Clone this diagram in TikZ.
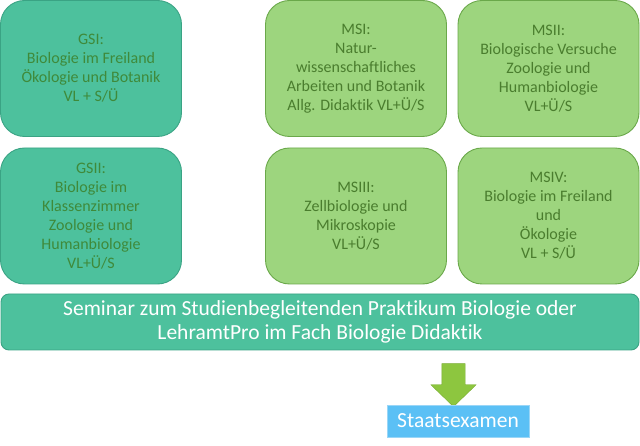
\documentclass[tikz,border=0pt]{standalone}
\usepackage{fontspec}
\setmainfont[Ligatures=NoCommon]{Carlito}
\usepackage{xcolor}
\usetikzlibrary{shapes.arrows}
\definecolor{tuerkis}{HTML}{4DC19D}
\definecolor{tuerkisrand}{HTML}{3AA384}
\definecolor{tuerkistext}{HTML}{3F8A3A}
\definecolor{hellgruen}{HTML}{9DD57E}
\definecolor{hellgruenrand}{HTML}{6AA84A}
\definecolor{gruentext}{HTML}{4A7D2E}
\definecolor{pfeilgruen}{HTML}{8DC63F}
\definecolor{pfeilrand}{HTML}{79AC33}
\definecolor{hellblau}{HTML}{5BC0F5}
\definecolor{hellblaurand}{HTML}{9AD6F7}
\tikzset{
	modul/.style={
			rounded corners=24pt, line width=0.9pt, minimum width=181pt, minimum height=136pt,
			align=center, inner sep=2pt,
			font=\fontsize{16}{19}\selectfont
		},
	gs/.style={modul, fill=tuerkis, draw=tuerkisrand, text=tuerkistext},
	ms/.style={modul, fill=hellgruen, draw=hellgruenrand, text=gruentext},
	seminar/.style={
			rounded corners=8pt, line width=0.9pt, fill=tuerkis, draw=tuerkisrand, text=white,
			minimum width=638pt, minimum height=56pt, align=center,
			font=\fontsize{21.5}{24}\selectfont
		},
	pfeil/.style={
			single arrow, shape border rotate=270, fill=pfeilgruen, draw=pfeilrand,
			minimum height=43pt, single arrow head extend=11pt,
			single arrow tip angle=92, inner sep=0pt
		},
	examen/.style={
			fill=hellblau, draw=hellblaurand, text=white, minimum width=142pt, minimum height=32pt,
			font=\fontsize{21.5}{24}\selectfont
		}
}

\begin{document}
\begin{tikzpicture}[x=1pt, y=-1pt]
	\useasboundingbox (0,0) rectangle (640,446);
	\node[gs] (gsi) at (91,68.5) {GSI:\\Biologie im Freiland\\Ökologie und Botanik\\VL + S/Ü};
	\node[gs] (gsii) at (91,216) {GSII:\\Biologie im\\Klassenzimmer\\Zoologie und\\Humanbiologie\\VL+Ü/S};
	\node[ms] (msi) at (356,68.5) {MSI:\\Natur-\\wissenschaftliches\\Arbeiten und Botanik\\Allg. Didaktik VL+Ü/S};
	\node[ms] (msii) at (548.5,68.5) {MSII:\\Biologische Versuche\\Zoologie und\\Humanbiologie\\VL+Ü/S};
	\node[ms] (msiii) at (356,216) {MSIII:\\Zellbiologie und\\Mikroskopie\\VL+Ü/S};
	\node[ms] (msiv) at (548.5,216) {MSIV:\\Biologie im Freiland\\und\\Ökologie\\VL + S/Ü};
	\node[seminar] (sem) at (320,322) {Seminar zum Studienbegleitenden Praktikum Biologie oder\\LehramtPro im Fach Biologie Didaktik};
	\node[pfeil] (pf) at (453.5,379.5) {\hspace*{23pt}};
	\node[examen] (stex) at (458,421) {Staatsexamen};
\end{tikzpicture}
\end{document}
